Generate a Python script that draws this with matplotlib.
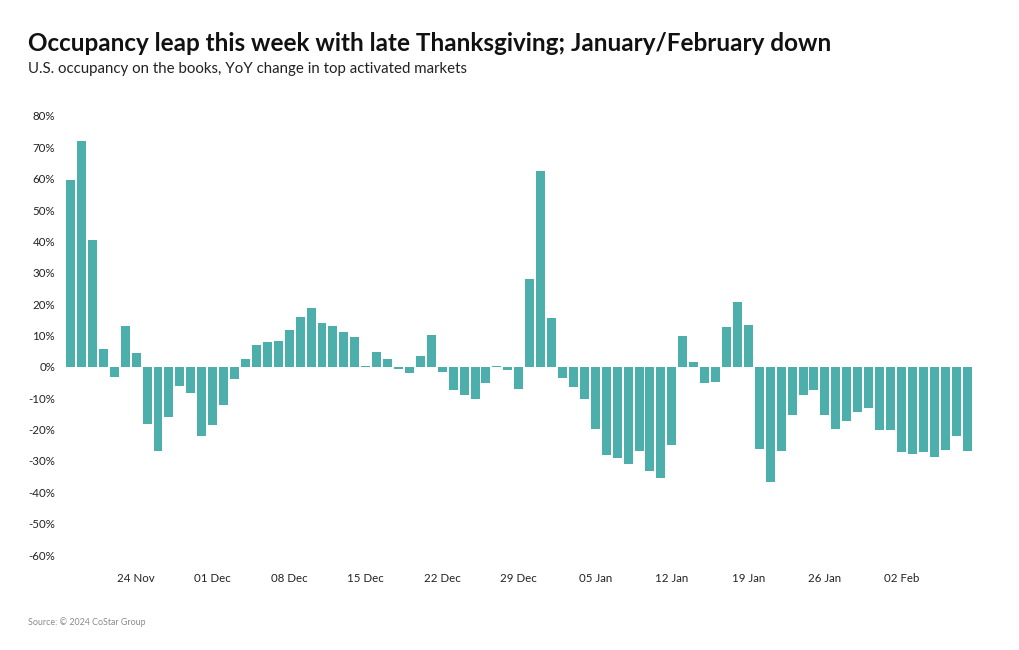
import matplotlib
matplotlib.use("Agg")
import matplotlib.pyplot as plt
import matplotlib.dates as mdates
from matplotlib.ticker import FixedLocator, FuncFormatter
import pandas as pd

title = "Occupancy leap this week with late Thanksgiving; January/February down"
subtitle = "U.S. occupancy on the books, YoY change in top activated markets"
source = "Source: \u00a9 2024 CoStar Group"

start_date = "2024-11-18"
yoy_change = [
    59.6, 72.0, 40.3, 5.7, -3.2, 13.0, 4.4, -18.1, -26.8, -16.0,
    -6.1, -8.2, -21.9, -18.6, -12.3, -3.9, 2.4, 6.9, 7.8, 8.4,
    11.6, 15.9, 18.9, 13.9, 13.1, 11.2, 9.4, 0.2, 4.6, 2.6,
    -0.6, -2.1, 3.4, 10.1, -1.7, -7.4, -9.0, -10.2, -5.1, 0.2,
    -1.0, -7.2, 28.1, 62.4, 15.7, -3.5, -6.5, -10.1, -19.8, -28.0,
    -29.0, -31.1, -26.7, -33.3, -35.3, -24.9, 9.9, 1.6, -5.2, -4.8,
    12.7, 20.7, 13.3, -26.2, -36.6, -26.9, -15.4, -9.1, -7.3, -15.5,
    -19.8, -17.3, -14.4, -13.2, -20.1, -20.2, -27.1, -27.8, -27.1, -28.9,
    -26.6, -22.1, -26.8,
]
dates = pd.date_range(start_date, periods=len(yoy_change), freq="D")
y_ticks = [-60, -50, -40, -30, -20, -10, 0, 10, 20, 30, 40, 50, 60, 70, 80]

BAR = "#4DAFAC"
FONT = "Lato"

fig = plt.figure(figsize=(10.2, 6.5), dpi=100)
W, H = 1020, 650
left, right, top, bottom = 62, 975, 116, 555
ax = fig.add_axes([left / W, 1 - bottom / H, (right - left) / W, (bottom - top) / H])

ax.bar(dates, yoy_change, width=0.82, color=BAR, edgecolor="none")

ax.set_xlim(dates[0] - pd.Timedelta(days=0.78), dates[-1] + pd.Timedelta(days=0.73))
ax.set_ylim(-60, 80)

ax.yaxis.set_major_locator(FixedLocator(y_ticks))
ax.yaxis.set_major_formatter(FuncFormatter(lambda v, p: f"{int(round(v))}%"))
ax.xaxis.set_major_locator(mdates.WeekdayLocator(byweekday=mdates.SU))
ax.xaxis.set_major_formatter(mdates.DateFormatter("%d %b"))

ax.tick_params(axis="both", length=0, labelsize=8.3, labelcolor="#222222")
ax.tick_params(axis="y", pad=5)
ax.tick_params(axis="x", pad=12.7)
for lab in ax.get_xticklabels() + ax.get_yticklabels():
    lab.set_fontfamily(FONT)
for s in ax.spines.values():
    s.set_visible(False)

fig.text(28 / W, 1 - 43.5 / H, title, fontsize=17.5, fontweight="bold",
         family=FONT, color="#111111", va="center", ha="left")
fig.text(28 / W, 1 - 69.5 / H, subtitle, fontsize=10.8, family=FONT,
         color="#222222", va="center", ha="left")
fig.text(28 / W, 1 - 622 / H, source, fontsize=6.4, family=FONT,
         color="#8a8a8a", va="center", ha="left")

fig.savefig("out.png", dpi=100, facecolor="white")
